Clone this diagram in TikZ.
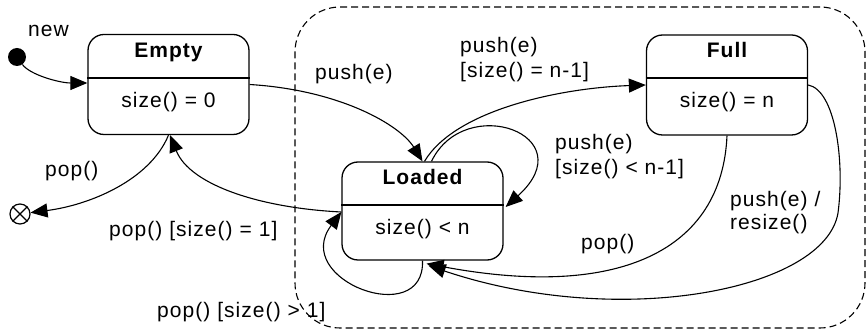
\documentclass[tikz,border=0pt]{standalone}
\usepackage{fontspec}
\setmainfont{Liberation Sans}[LetterSpace=5]
\usetikzlibrary{arrows.meta}
\begin{document}
\begin{tikzpicture}[x=1pt,y=-1pt,
  every node/.style={font=\fontsize{21}{25}\selectfont},
  statebox/.style={draw, line width=1.3pt, rounded corners=16pt, minimum width=161pt, minimum height=100pt, inner sep=0pt},
  divider/.style={line width=1.3pt},
  region/.style={draw, line width=1.1pt, dash pattern=on 7pt off 4pt, rounded corners=45pt, inner sep=0pt},
  tr/.style={-{Triangle[length=17pt,width=14pt]}, line width=1.1pt},
  lbl/.style={anchor=base west, inner sep=0pt},
  ttl/.style={anchor=base, inner sep=0pt, font=\fontsize{21}{25}\selectfont\bfseries},
  body/.style={anchor=base, inner sep=0pt}]
\useasboundingbox (0,0) rectangle (868,336);

% composite region
\node[region, minimum width=570pt, minimum height=321pt] (super) at (580,167.5) {};

% states
\node[statebox] (empty) at (168.5,84.5) {};
\draw[divider] (empty.west |- 0,78) -- (empty.east |- 0,78);
\node[ttl] (emptyt) at (168.5,58) {Empty};
\node[body] (emptyb) at (168.5,108) {size() = 0};

\node[statebox, minimum height=98pt] (loaded) at (422.5,211) {};
\draw[divider] (loaded.west |- 0,205) -- (loaded.east |- 0,205);
\node[ttl] (loadedt) at (422.5,185) {Loaded};
\node[body] (loadedb) at (422.5,235) {size() < n};

\node[statebox] (full) at (727,85) {};
\draw[divider] (full.west |- 0,78) -- (full.east |- 0,78);
\node[ttl] (fullt) at (727,58) {Full};
\node[body] (fullb) at (727,108) {size() = n};

% pseudo states
\node[circle, fill, minimum size=18pt, inner sep=0pt] (init) at (17,57) {};
\node[circle, draw, line width=1.2pt, minimum size=20pt, inner sep=0pt] (final) at (20,214) {};
\draw[line width=1.2pt] (final.north west) -- (final.south east);
\draw[line width=1.2pt] (final.north east) -- (final.south west);

% transitions
\draw[tr] (init) .. controls (30,75) and (60,83) .. ([yshift=1.5pt]empty.west);
\draw[tr] (empty.east) .. controls (340,90) and (400,125) .. (loaded.north);
\draw[tr] ([xshift=2pt]loaded.north) .. controls (455,110) and (560,88) .. (full.west);
\draw[tr] ([xshift=9pt]loaded.north) .. controls (465,92) and (585,135) .. ([xshift=2pt,yshift=4pt]loaded.east);
\draw[tr] (loaded.south) .. controls (425,330) and (290,280) .. ([yshift=-1pt]loaded.west);
\draw[tr] ([yshift=-1pt]loaded.west) .. controls (260,208) and (190,185) .. ([xshift=1.5pt]empty.south);
\draw[tr] (empty.south) .. controls (150,180) and (90,205) .. (final);
\draw[tr] (full.south) .. controls (722,250) and (620,300) .. ([xshift=4pt,yshift=-3pt]loaded.south);
\draw[tr] (full.east) .. controls (835,90) and (845,160) .. (838,213) .. controls (825,290) and (620,330) .. ([xshift=6pt,yshift=-5pt]loaded.south);

% labels
\node[lbl] (lnew) at (28,37) {new};
\node[lbl] (lpopf) at (45,177) {pop()};
\node[lbl] (lpop1) at (109,237) {pop() [size() = 1]};
\node[lbl] (lpopgt) at (157,318) {pop() [size() > 1]};
\node[lbl] (lpush) at (315,80) {push(e)};
\node[lbl] (lpna) at (460,53) {push(e)};
\node[lbl] (lpnb) at (460,78) {[size() = n-1]};
\node[lbl] (lpla) at (555,150) {push(e)};
\node[lbl] (lplb) at (555,175) {[size() < n-1]};
\node[lbl] (lpopfull) at (581,250) {pop()};
\node[lbl] (lresa) at (730,207) {push(e) /};
\node[lbl] (lresb) at (730,230) {resize()};
\end{tikzpicture}
\end{document}
